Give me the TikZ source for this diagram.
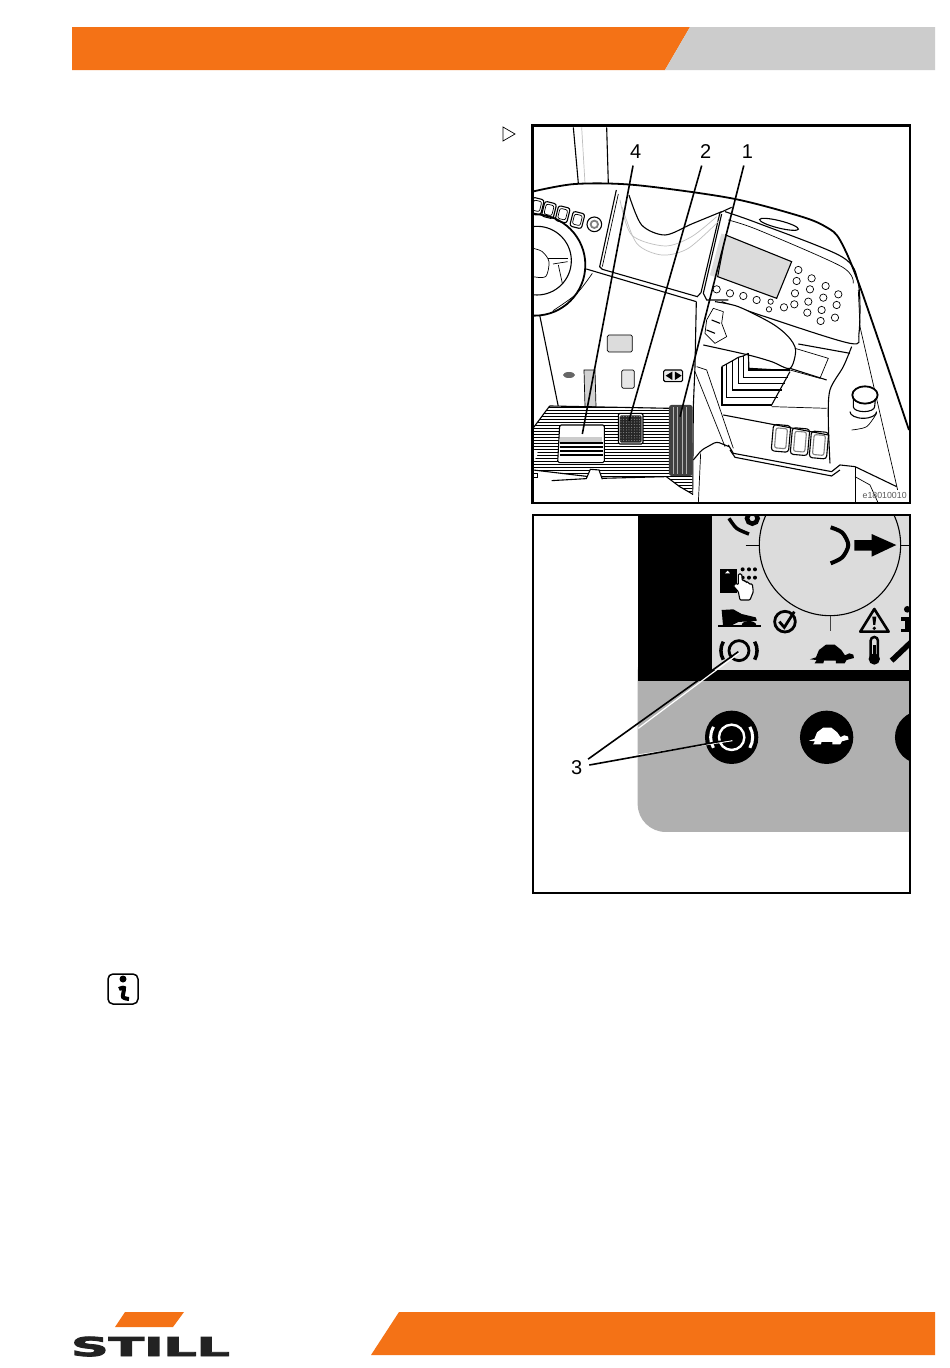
\documentclass[tikz,border=0pt]{standalone}
\usepackage{fontspec}
\setmainfont{Liberation Sans}
\newfontfamily\logofont[FakeBold=3.2]{DejaVu Sans Bold}
\usepackage{xcolor}
\definecolor{stillorange}{HTML}{F47216}
\definecolor{stillgray}{HTML}{CCCCCC}
\definecolor{panelgray}{HTML}{DCDCDC}
\definecolor{keygray}{HTML}{B0B0B0}
\definecolor{logoblack}{HTML}{222222}
\tikzset{
    thinline/.style={line width=0.7pt},
    midline/.style={line width=1.1pt},
    thickline/.style={line width=1.8pt},
    paleline/.style={line width=0.7pt, gray!50},
    frameline/.style={line width=2.6pt},
    leader/.style={line width=1.6pt, shorten <=7pt},
    callout/.style={font=\fontsize{20}{20}\selectfont, inner sep=0pt},
    keypadkey/.style={thinline, fill=white},
}
\newcommand{\turtleshape}{(-60,8)--(-42,2)--(-33,-20)--(-12,-36)--(14,-36)--(34,-20)--(45,-4)--(58,-10)--(70,-6)--(72,4)--(50,10)--(44,20)--(18,20)--(18,12)--(-18,12)--(-20,20)--(-46,20)--(-40,10)--cycle}
\begin{document}
\begin{tikzpicture}[x=1pt,y=-1pt]
    \useasboundingbox (0,0) rectangle (950,1368);
    \fill[white] (0,0) rectangle (950,1368);
    % header and footer
    \fill[stillorange] (72,27)--(690,27)--(665,70)--(72,70)--cycle;
    \fill[stillgray] (690,27)--(935,27)--(935,70)--(665,70)--cycle;
    \fill[stillorange] (399,1312)--(935,1312)--(935,1355)--(371,1355)--cycle;
    \fill[stillorange] (125,1312)--(184,1312)--(173,1327)--(115,1327)--cycle;
    \node[inner sep=0pt, anchor=base west, text=logoblack] (logotext) at (71,1356) {\scalebox{2.0}[1]{\logofont\fontsize{26}{26}\selectfont STILL}};
    % marker and info icon
    \draw[thinline] (503,127)--(515,134)--(503,141)--cycle;
    \draw[line width=1.5pt, rounded corners=5pt] (108,974) rectangle (138,1004);
    \fill (123,979) circle (3.5);
    \draw[line width=4pt] plot[smooth] coordinates {(119,989)(124,988)(123,997)(129,999)};

    % upper picture
    \begin{scope}[shift={(525,120)}, x=0.3333pt, y=-0.3333pt]
        \begin{scope}
            \clip (22,18) rectangle (1155,1150);
            % column
            \draw[midline] (145,22)--(160,190);
            \draw[midline] (245,22)--(250,190);
            \draw[paleline] (170,22)--(180,190);
            % dash edge
            \draw[thickline] plot[smooth] coordinates {(22,215)(150,192)(330,195)(620,235)(830,290)(905,322)(945,360)(1005,500)(1152,930)};
            \draw[midline] plot[smooth] coordinates {(600,275)(700,310)(950,410)(1000,490)(1002,640)(975,670)(720,590)(590,545)};
            \draw[thinline] plot[smooth] coordinates {(610,300)(700,330)(950,440)(985,490)};
            \draw[midline, rotate around={-14:(762,313)}] (762,313) ellipse (60 and 11);
            % steering wheel
            \draw[thickline] (29,435) circle (152);
            \draw[midline] (36,422) circle (103);
            \draw[thinline] plot[smooth] coordinates {(84,572)(154,522)(202,460)};
            \draw[thinline] plot[smooth] coordinates {(24,385)(52,395)(72,425)(62,470)(24,470)};
            \draw[thinline] (70,415)--(130,415);
            \draw[thinline] (84,432)--(128,425);
            \draw[thinline] (100,435)--(112,490);
            % small switches
            \foreach \bx/\by in {35/258, 72/270, 113/283, 157/300}{
                \draw[midline, rounded corners=2.5pt, rotate around={-14:(\bx,\by)}] (\bx-18,\by-23) rectangle (\bx+18,\by+23);
                \draw[thinline, rounded corners=2pt, rotate around={-14:(\bx,\by)}] (\bx-12,\by-16) rectangle (\bx+12,\by+15);
            }
            \draw[midline] (208,313) circle (22);
            \draw[thickline, gray] (208,313) circle (11);
            % centre panel
            \draw[midline] (274,210)--(224,440)--(232,448)--(517,530)--(528,518)--(585,278)--(620,262);
            \draw[thinline] (280,222)--(232,440);
            \draw[midline] plot[smooth] coordinates {(312,225)(350,315)(420,345)(500,312)(590,275)};
            \draw[paleline] plot[smooth] coordinates {(285,240)(320,345)(420,378)(500,350)(575,290)};
            \draw[paleline] plot[smooth] coordinates {(292,262)(335,370)(410,405)(490,385)(585,300)};
            \draw[midline] (184,447)--(514,545);
            \draw[midline] (514,545)--(510,740)--(505,860)--(503,1125);
            \draw[midline] (44,585)--(100,860);
            \draw[midline] (590,282)--(535,520)--(545,540)--(610,540);
            % display
            \fill[panelgray] (602,345)--(800,425)--(755,535)--(578,470)--cycle;
            \draw[midline] (602,345)--(800,425)--(755,535)--(578,470)--cycle;
            \fill[panelgray, draw, thinline] (590,342)--(603,347)--(572,470)--(556,465)--cycle;
            % keypad
            \foreach \kx/\ky/\kr in {575/508/11, 615/520/11, 655/528/11, 695/540/11, 737/545/8, 732/568/8, 777/562/11,
                820/450/11, 860/475/11, 902/498/11, 940/523/11,
                815/483/11, 855/508/11, 895/533/11, 935/555/11,
                810/520/11, 850/545/11, 890/570/11, 930/593/11,
                808/553/11, 847/578/11, 887/603/11}{
                \draw[keypadkey] (\kx,\ky) circle (\kr);
            }
            % lever
            \draw[midline, fill=white] plot[smooth] coordinates {(535,675)(670,705)(740,725)(795,745)(812,690)(790,650)(740,610)(640,560)(570,545)};
            \draw[thinline] (810,685)--(910,715)--(885,775)--(795,750);
            \draw[midline] (820,672)--(975,700);
            \draw[midline] plot[smooth] coordinates {(980,680)(955,740)(915,810)(910,900)(915,1030)};
            \draw[midline] (795,745)--(905,780);
            \draw[thinline] (540,640)--(545,600)--(565,565)--(595,575)--(590,610)--(605,650)--(570,670)--(540,640);
            \draw[midline] (560,600)--(585,610);
            \draw[midline] (545,630)--(570,640);
            % bellows
            \foreach \lx/\ty/\by/\rx in {590/740/855/740, 605/732/832/760, 623/722/810/770, 640/712/790/780, 655/708/772/790, 670/700/750/795}{
                \draw[line width=1.4pt] (\lx,\ty)--(\lx,\by)--(\rx,\by);
            }
            \draw[midline] (590,740)--(605,732)--(623,722)--(640,712)--(655,708)--(670,700);
            \draw[midline] (670,700)--(672,745)--(795,752);
            \draw[midline] (740,855)--(795,755);
            \draw[thickline] (590,740)--(590,855)--(740,855);
            % lower console
            \draw[thinline] (740,860)--(905,865);
            \draw[midline] (595,885)--(910,945);
            \draw[thinline] (515,740)--(545,750)--(625,985);
            \draw[thinline] (510,755)--(600,980);
            \draw[midline] (610,975)--(625,1000)--(920,1055)--(945,1035)--(990,1040)--(1115,1100);
            \draw[midline] (615,990)--(630,1012)--(920,1068)--(945,1050);
            \draw[midline, rounded corners=3pt] (505,1020)--(530,990)--(575,965)--(612,980);
            \draw[thinline] (527,1000)--(520,1150);
            \draw[thinline] (990,1040)--(990,1150);
            \draw[thinline] (990,1070)--(1035,1095)--(1060,1150);
            \draw[thinline] (1000,510)--(1005,620)--(1118,1110);
            % mushroom button
            \draw[midline] (975,875) arc (180:0:40 and 20);
            \draw[midline, fill=white] (985,860) arc (180:0:32 and 15)--(1052,830)--(985,830)--cycle;
            \draw[thickline, fill=white] (1020,825) ellipse (38 and 26);
            \draw[thinline] plot[smooth] coordinates {(980,930)(1025,920)(1055,880)};
            % three switches
            \foreach \sx/\sy in {768/955, 825/965, 882/975}{
                \draw[midline, rounded corners=3pt, rotate around={-5:(\sx,\sy)}] (\sx-26,\sy-40) rectangle (\sx+26,\sy+40);
                \draw[midline, gray, rounded corners=2pt, rotate around={-5:(\sx,\sy)}] (\sx-17,\sy-30) rectangle (\sx+17,\sy+30);
            }
            % panel symbols
            \draw[thinline, fill=panelgray, rounded corners=1.5pt] (247,645) rectangle (322,696);
            \draw[thinline, fill=panelgray!70, rounded corners=1.5pt] (290,750) rectangle (328,805);
            \draw[midline, fill=panelgray!60, rounded corners=1.5pt] (416,750) rectangle (473,785);
            \fill (442,755)--(442,780)--(422,767)--cycle;
            \fill (450,755)--(450,780)--(470,767)--cycle;
            \fill[gray!80!black] (132,765) ellipse (18 and 9);
            \draw[thinline, fill=gray!35] (177,750)--(210,750)--(213,860)--(180,860)--cycle;
            % floor plate
            \begin{scope}
                \clip (74,858)--(432,865)--(432,1068)--(502,1068)--(502,1122)--(464,1100)--(424,1070)--(234,1075)--(24,1050)--(24,925)--cycle;
                \fill[white] (22,850) rectangle (510,1125);
                \foreach \sy in {861.5,870.5,...,1125}{
                    \draw[line width=1pt] (22,\sy)--(510,\sy);
                }
            \end{scope}
            \draw[midline] (74,858)--(432,865);
            \draw[midline] (74,858)--(24,925);
            \draw[midline] (24,1050)--(234,1075)--(424,1070)--(464,1100)--(502,1122);
            % white cut-outs at the floor edge
            \fill[white] (22,985)--(40,1000)--(22,1032)--cycle;
            \draw[thinline, fill=white] (22,1060)--(38,1060)--(38,1072)--(22,1072);
            \draw[midline, fill=white] (80,1082)--(184,1076)--(196,1048)--(222,1050)--(232,1078);
            % pedal 4
            \draw[midline, fill=white, rounded corners=1.5pt] (104,915)--(238,915)--(238,1028)--(98,1028)--cycle;
            \fill[gray!40] (106,952) rectangle (232,966);
            \foreach \sy in {970,982,994,1006}{
                \draw[line width=2.2pt] (104,\sy)--(233,\sy);
            }
            % pedal 2
            \draw[midline, fill=white, rounded corners=1.5pt] (280,880) rectangle (354,972);
            \fill[gray!30!black, rounded corners=1.5pt] (284,886) rectangle (350,968);
            \foreach \dx in {288,296,...,346}{
                \foreach \dy in {890,898,...,964}{
                    \fill[gray!70] (\dx,\dy) circle (1.5);
                }
            }
            % pedal 1
            \fill[black!75, rounded corners=2.5pt] (432,855) rectangle (503,1068);
            \foreach \sx in {445,458,471,484}{
                \draw[line width=0.8pt, gray!60] (\sx,862)--(\sx,1062);
            }
        \end{scope}
        \node[callout] (lblfour) at (332,95) {4};
        \node[callout] (lbltwo) at (542,95) {2};
        \node[callout] (lblone) at (667,95) {1};
        \coordinate (ptfour) at (172,942);
        \coordinate (pttwo) at (312,902);
        \coordinate (ptone) at (465,890);
        \draw[leader] (lblfour)--(ptfour);
        \draw[leader] (lbltwo)--(pttwo);
        \draw[leader] (lblone)--(ptone);
        \node[inner sep=0pt, text=black!65, font=\fontsize{8.8}{9}\selectfont] (figcode) at (1079,1128) {e18010010};
    \end{scope}
    \draw[frameline] (532.5,125.5) rectangle (910,503);

    % lower picture
    \begin{scope}[shift={(525,510)}, x=0.3333pt, y=-0.3333pt]
        \begin{scope}
            \clip (25,15) rectangle (1155,1150);
            \fill (338,15) rectangle (1155,520);
            \fill[keygray, rounded corners=28pt] (338,400) rectangle (1300,966);
            \fill (338,15) rectangle (1155,514);
            \fill[panelgray] (562,15) rectangle (1155,480);
            % dial
            \draw[midline] (915,105) circle (212);
            \draw[thinline] (662,105)--(703,105);
            \draw[thinline] (1127,105)--(1155,105);
            \draw[thinline, gray!50!black] (915,318)--(915,362);
            \draw[line width=4pt] plot[smooth] coordinates {(917,52)(952,68)(970,105)(952,142)(917,160)};
            \fill (988,90)--(1040,90)--(1040,72)--(1114,105)--(1040,140)--(1040,122)--(988,122)--cycle;
            % partial symbol at the top
            \draw[line width=4.5pt] (682,25) circle (16);
            \draw[line width=3.5pt] plot[smooth] coordinates {(612,25)(635,55)(672,72)};
            % card and hand
            \fill (585,178) rectangle (635,248);
            \fill[white] (600,190)--(615,190)--(608,182)--cycle;
            \foreach \dx/\dy in {653/178, 672/178, 690/178, 653/203, 672/203, 690/203}{
                \fill (\dx,\dy) circle (6);
            }
            \draw[midline, fill=white, rounded corners=1pt] (640,245)--(625,228)--(632,220)--(640,224)--(640,192)--(650,192)--(652,212)--(660,212)--(662,216)--(670,216)--(672,222)--(682,222)--(685,245)--(675,270)--(645,270)--cycle;
            % shoe on pedal
            \fill (590,300)--(625,298)--(650,312)--(692,322)--(696,332)--(640,336)--(622,345)--(594,345)--cycle;
            \fill (650,346) arc (180:360:22 and 13)--cycle;
            \draw[line width=1.3pt] (580,348)--(707,348);
            % check mark
            \draw[line width=2.8pt] (780,335) circle (31);
            \draw[line width=2.8pt] (763,335)--(778,352)--(808,305);
            % warning sign
            \draw[line width=2.6pt, line join=round] (1048,297)--(1091,365)--(1006,365)--cycle;
            \fill (1042,320)--(1054,320)--(1051,345)--(1045,345)--cycle;
            \fill (1048,355) circle (5.5);
            % information sign
            \fill (1147,298) circle (10);
            \fill (1128,320) rectangle (1155,332);
            \fill (1140,320) rectangle (1155,365);
            \fill (1128,358) rectangle (1155,367);
            % wrench
            \draw[line width=5.5pt] (1100,452)--(1160,395);
            % thermometer
            \draw[line width=2.5pt, fill=panelgray] (1037,445)--(1037,392) arc (180:360:11)--(1059,445);
            \fill (1048,447) circle (17);
            \fill (1044,405) rectangle (1052,445);
            % turtle
            \fill[shift={(915,440)}] \turtleshape;
            % brake lamp
            \draw[line width=2.8pt] (642,422) circle (30);
            \draw[line width=3.5pt] (595,449) arc (150:210:54);
            \draw[line width=3.5pt] (689,449) arc (30:-30:54);
            % buttons
            \fill (620,682) circle (80);
            \fill (905,682) circle (80);
            \fill (1190,682) circle (80);
            \draw[white, line width=2.4pt] (620,682) circle (38);
            \draw[white, line width=3pt] (565.4,713.5) arc (150:210:63);
            \draw[white, line width=3pt] (674.6,713.5) arc (30:-30:63);
            \fill[white, shift={(906,685)}, scale=0.9] \turtleshape;
        \end{scope}
        \node[callout] (lblthree) at (155,772) {3};
        \coordinate (ptlamp) at (640,425);
        \coordinate (ptbutton) at (620,688);
        \draw[white, line width=1.2pt] (340,655)--(644,428);
        \draw[white, line width=1.2pt] (340,735)--(622,692);
        \draw[leader] (lblthree)--(ptlamp);
        \draw[leader] (lblthree)--(ptbutton);
    \end{scope}
    \draw[frameline] (533,515) rectangle (910,893);
\end{tikzpicture}
\end{document}
